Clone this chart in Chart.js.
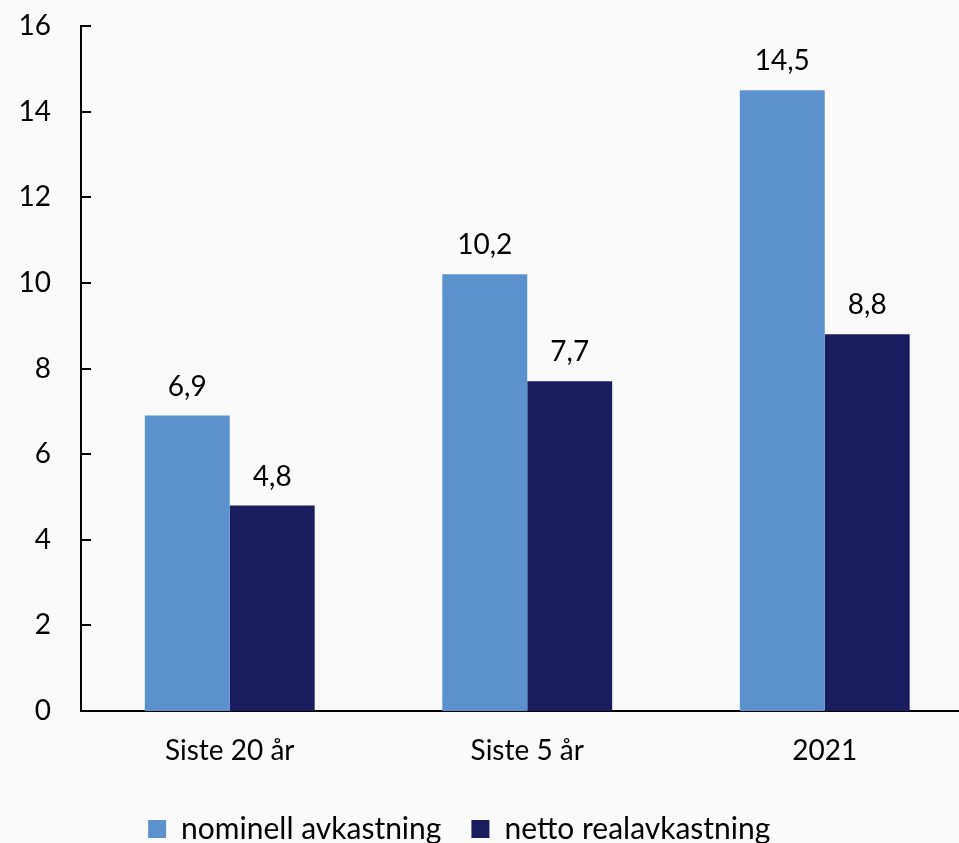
<!DOCTYPE html>
<html>
<head>
<meta charset="utf-8">
<script src="https://cdn.jsdelivr.net/npm/chart.js@4"></script>
<style>
  html, body { margin: 0; padding: 0; background: #fafafa; overflow: hidden; }
  #wrap { width: 975px; height: 854px; }
</style>
</head>
<body>
<div id="wrap"><canvas id="grafico"></canvas></div>
<script>
const kategorier = ['Siste 20 år', 'Siste 5 år', '2021'];
const nominell = [6.9, 10.2, 14.5];
const nettoReal = [4.8, 7.7, 8.8];
const yTicks = [0, 2, 4, 6, 8, 10, 12, 14, 16];

const fonte = 'Lato, "Open Sans", sans-serif';

// etiketter over stolpene, med komma som desimaltegn
const verdiEtiketter = {
  id: 'verdiEtiketter',
  afterDatasetsDraw(chart) {
    const ctx = chart.ctx;
    ctx.save();
    ctx.font = '28px ' + fonte;
    ctx.fillStyle = '#000';
    ctx.textAlign = 'center';
    ctx.textBaseline = 'alphabetic';
    chart.data.datasets.forEach((ds, i) => {
      chart.getDatasetMeta(i).data.forEach((bar, j) => {
        ctx.fillText(ds.data[j].toFixed(1).replace('.', ','), bar.x, bar.y - 20);
      });
    });
    ctx.restore();
  }
};

// små merker på innsiden av y-aksen
const innMerker = {
  id: 'innMerker',
  afterDraw(chart) {
    const y = chart.scales.y;
    const ctx = chart.ctx;
    ctx.save();
    ctx.strokeStyle = '#000';
    ctx.lineWidth = 2;
    yTicks.forEach(v => {
      const py = Math.round(y.getPixelForValue(v));
      ctx.beginPath();
      ctx.moveTo(y.right, py);
      ctx.lineTo(y.right + 10, py);
      ctx.stroke();
    });
    ctx.restore();
  }
};

new Chart(document.getElementById('grafico').getContext('2d'), {
  type: 'bar',
  data: {
    labels: kategorier,
    datasets: [{
      label: 'nominell avkastning',
      data: nominell,
      backgroundColor: '#5b92cd'
    }, {
      label: 'netto realavkastning',
      data: nettoReal,
      backgroundColor: '#1a1c60'
    }]
  },
  options: {
    responsive: true,
    maintainAspectRatio: false,
    animation: false,
    layout: { padding: { left: -55, right: 1.5, top: 26, bottom: 0 } },
    datasets: {
      bar: { barPercentage: 1, categoryPercentage: 0.571 }
    },
    scales: {
      x: {
        grid: { display: false },
        border: { display: true, color: '#000', width: 2 },
        ticks: { color: '#000', font: { family: fonte, size: 28 }, padding: 15 },
        afterFit(s) { s.height = 73; }
      },
      y: {
        min: 0,
        max: 16,
        afterBuildTicks(s) { s.ticks = yTicks.map(v => ({ value: v })); },
        grid: { display: false },
        border: { display: true, color: '#000', width: 2 },
        ticks: { color: '#000', font: { family: fonte, size: 28 }, padding: 22 },
        afterFit(s) {
          s.width = 136;
          s.paddingTop = 0;
          s.paddingBottom = 0;
        }
      }
    },
    plugins: {
      legend: {
        position: 'bottom',
        labels: {
          color: '#000',
          font: { family: fonte, size: 30 },
          boxWidth: 18,
          boxHeight: 18,
          padding: 30
        }
      },
      tooltip: { enabled: false }
    }
  },
  plugins: [verdiEtiketter, innMerker]
});
</script>
</body>
</html>
